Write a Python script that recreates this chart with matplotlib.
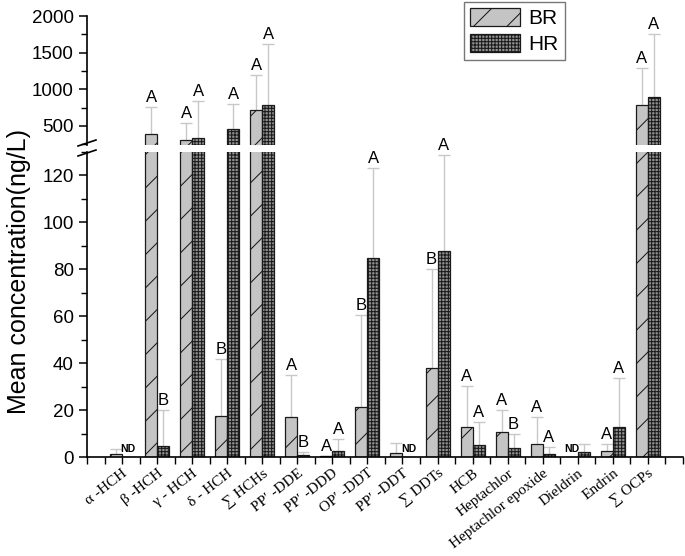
import numpy as np
import matplotlib.pyplot as plt
from matplotlib.ticker import MultipleLocator
from matplotlib.lines import Line2D

plt.rcParams['font.family'] = ['Liberation Sans', 'DejaVu Sans']
plt.rcParams['hatch.linewidth'] = 0.75
plt.rcParams['hatch.color'] = '#1a1a1a'

# Data (ng/L)
categories = ['α -HCH', 'β -HCH', 'γ - HCH', 'δ - HCH', '∑ HCHs', 'PP′ -DDE', 'PP′ -DDD',
              'OP′ -DDT', 'PP′ -DDT', '∑ DDTs', 'HCB', 'Heptachlor', 'Heptachlor epoxide',
              'Dieldrin', 'Endrin', '∑ OCPs']
br_mean = [1.2, 387, 309, 17.4, 714, 16.9, 0.3, 21.2, 1.8, 37.7, 12.9, 10.6, 5.5, 0, 2.7, 782]
br_sd = [2.2, 368, 228, 24.1, 485, 18.0, 0.2, 39.2, 4.0, 42.1, 17.4, 9.4, 11.7, 0, 2.7, 504]
hr_mean = [0, 4.7, 341, 455, 790, 0.7, 2.4, 84.8, 0, 87.7, 5.1, 3.8, 1.3, 2.1, 12.9, 900]
hr_sd = [0, 15.3, 504, 345, 827, 1.3, 5.3, 38.0, 0, 40.8, 9.9, 6.0, 2.8, 3.4, 20.6, 854]
br_letters = ['', 'A', 'A', 'B', 'A', 'A', 'A', 'B', '', 'B', 'A', 'A', 'A', '', 'A', 'A']
hr_letters = ['', 'B', 'A', 'A', 'A', 'B', 'A', 'A', '', 'A', 'A', 'B', 'A', '', 'A', 'A']
br_nd = [False] * 13 + [True, False, False]
hr_nd = [True] + [False] * 7 + [True] + [False] * 7

low_max = 130
x = np.arange(len(categories))
w = 0.343

fig = plt.figure(figsize=(6.85, 5.56), dpi=100)
ax_lo = fig.add_axes([0.127, 0.178, 0.870, 0.5495])
ax_hi = fig.add_axes([0.127, 0.7392, 0.870, 0.232])
ax_hi.set_facecolor('none')

series = [
    (br_mean, br_sd, br_letters, br_nd, -w / 2, '#c4c4c4', '/', 'BR'),
    (hr_mean, hr_sd, hr_letters, hr_nd, w / 2, '#909090', '+++++', 'HR'),
]

handles = []
for ax in (ax_lo, ax_hi):
    for mean, sd, letters, nd, off, fc, hatch, name in series:
        keep = [i for i in range(len(x)) if not nd[i]]
        ax.errorbar(x[keep] + off, np.array(mean)[keep], yerr=np.array(sd)[keep],
                    fmt='none', ecolor='#c8c8c8', elinewidth=1.0, capsize=4,
                    capthick=1.0, zorder=1)
        b = ax.bar(x + off, mean, w, color=fc, edgecolor='#1a1a1a', linewidth=0.9,
                   hatch=hatch, label=name, zorder=2)
        if ax is ax_lo:
            handles.append(b)

for mean, sd, letters, nd, off, fc, hatch, name in series:
    for i in range(len(x)):
        if nd[i]:
            ax_lo.text(x[i] + off, 1.2, 'ND', ha='center', va='bottom',
                       fontsize=7.5, fontweight='bold')
            continue
        if not letters[i]:
            continue
        top = mean[i] + sd[i]
        ax = ax_hi if top > low_max else ax_lo
        ax.annotate(letters[i], (x[i] + off, top), xytext=(0, 1.5),
                    textcoords='offset points', ha='center', va='bottom',
                    fontsize=12, annotation_clip=False, zorder=5)

for ax in (ax_lo, ax_hi):
    for s in ax.spines.values():
        s.set_linewidth(1.2)
    ax.tick_params(axis='y', which='major', direction='out', length=6, width=1.1,
                   labelsize=13.5)
    ax.tick_params(axis='y', which='minor', direction='out', length=4, width=1.0)
    ax.tick_params(axis='x', which='both', direction='out', length=5, width=1.0, pad=2)

# lower panel
ax_lo.set_xlim(-1, 16)
ax_lo.set_ylim(0, low_max)
ax_lo.yaxis.set_major_locator(MultipleLocator(20))
ax_lo.yaxis.set_minor_locator(MultipleLocator(10))
ax_lo.set_xticks(x)
ax_lo.xaxis.set_minor_locator(MultipleLocator(0.5))
ax_lo.set_xticklabels(categories, rotation=38, ha='right', va='top',
                      rotation_mode='anchor', fontsize=11,
                      family=['Liberation Serif', 'DejaVu Serif'])
ax_lo.spines['top'].set_visible(False)
ax_lo.spines['right'].set_visible(False)

# upper panel
ax_hi.set_xlim(-1, 16)
ax_hi.set_ylim(240, 2000)
ax_hi.yaxis.set_major_locator(MultipleLocator(500))
ax_hi.yaxis.set_minor_locator(MultipleLocator(250))
ax_hi.set_xticks([])
ax_hi.xaxis.set_minor_locator(plt.NullLocator())
for s in ('top', 'right', 'bottom'):
    ax_hi.spines[s].set_visible(False)

# break marks on the y axis
x0 = 0.127
for yp in (143, 153):
    yf = 1 - yp / 556
    fig.add_artist(Line2D([x0 - 9 / 685, x0 + 9 / 685], [yf - 3 / 556, yf + 3 / 556],
                          color='black', linewidth=1.2))

fig.text(0.028, 0.512, 'Mean concentration(ng/L)', rotation=90, ha='center',
         va='center', fontsize=18)

fig.legend(handles=handles, labels=['BR', 'HR'], loc='upper left',
           bbox_to_anchor=(462 / 685, 1.0), fontsize=15, frameon=True, fancybox=False,
           edgecolor='#777777', framealpha=1, borderaxespad=0.1, borderpad=0.3,
           handlelength=2.4, handleheight=0.9, labelspacing=0.3, handletextpad=0.4)

plt.savefig('out.png')
